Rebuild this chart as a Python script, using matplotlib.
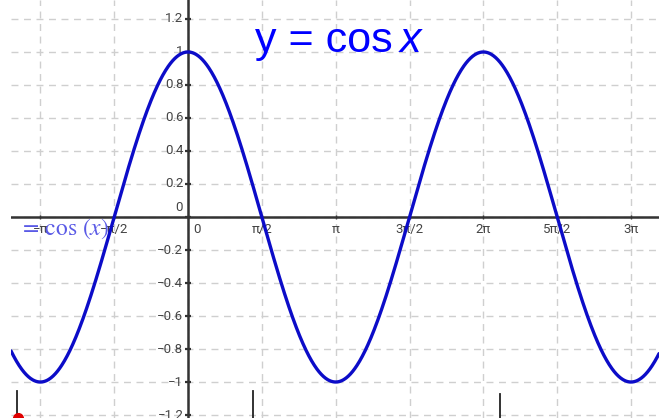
"""
Graph of y = cos x on a pi/2 grid, drawn like a graphing-calculator view.

Writes out.png (659x418).
"""

import matplotlib.pyplot as plt
import numpy as np

# view window (x in radians)
X_MIN, X_MAX = -3.766, 10.02
Y_MIN, Y_MAX = -1.218, 1.315

# x gridlines / labels at multiples of pi/2
x_steps = [-2, -1, 0, 1, 2, 3, 4, 5, 6]
x_labels = ["\u2212\u03c0", "\u2212\u03c0/2", "0", "\u03c0/2", "\u03c0",
            "3\u03c0/2", "2\u03c0", "5\u03c0/2", "3\u03c0"]

# y gridlines / labels
y_ticks = [1.2, 1.0, 0.8, 0.6, 0.4, 0.2, 0.0, -0.2, -0.4, -0.6, -0.8, -1.0, -1.2]
y_labels = ["1.2", "1", "0.8", "0.6", "0.4", "0.2", "0", "\u22120.2",
            "\u22120.4", "\u22120.6", "\u22120.8", "\u22121", "\u22121.2"]

# stray stylus marks along the bottom edge
mark_x = [-3.64, 1.38, 6.64]
mark_top = [-1.055, -1.055, -1.07]
dot_x, dot_y = -3.62, -1.218

CURVE = "#0c0cc8"
AXIS = "#333333"
GRID = "#cfcfcf"
LABEL = "#444444"


def main() -> None:
    plt.rcParams["mathtext.fontset"] = "stix"
    fig = plt.figure(figsize=(6.59, 4.18), dpi=100)
    # leave a narrow white margin on the left
    ax = fig.add_axes([11 / 659, 0, 648 / 659, 1])
    ax.set_xlim(X_MIN, X_MAX)
    ax.set_ylim(Y_MIN, Y_MAX)
    ax.axis("off")

    xs = np.array(x_steps) * np.pi / 2

    # dashed grid
    for gx in xs:
        ax.axvline(gx, color=GRID, lw=1.0, ls=(0, (5, 4)), zorder=1)
    for gy in y_ticks:
        ax.axhline(gy, color=GRID, lw=1.0, ls=(0, (5, 4)), zorder=1)

    # axes through the origin
    ax.axhline(0, color=AXIS, lw=1.8, zorder=3)
    ax.axvline(0, color=AXIS, lw=1.8, zorder=3)
    ax.plot(xs, np.zeros_like(xs), ls="none", marker="|", ms=3, color=AXIS, zorder=3)
    ax.plot(np.zeros(len(y_ticks)), y_ticks, ls="none", marker="_", ms=5,
            mew=1.6, color=AXIS, zorder=3)

    tick_font = dict(family=["Roboto", "DejaVu Sans"], fontsize=9.5, color=LABEL)
    for gx, lab in zip(xs, x_labels):
        if lab == "0":
            ax.text(0.19, -0.073, lab, ha="center", va="center", **tick_font)
        else:
            ax.text(gx, -0.073, lab, ha="center", va="center", **tick_font)
    for gy, lab in zip(y_ticks, y_labels):
        if lab == "0":
            ax.text(-0.2, 0.055, lab, ha="center", va="center", **tick_font)
        else:
            ax.text(-0.1, gy, lab, ha="right", va="center", **tick_font)

    # the function itself
    x = np.linspace(X_MIN, X_MAX, 1200)
    ax.plot(x, np.cos(x), color=CURVE, lw=2.4, zorder=4, solid_capstyle="round")

    # definition label on the axis
    ax.text(-3.6, -0.07, r"$=\,\cos\,(x)$", color="#5a5ae6", fontsize=17,
            ha="left", va="center", zorder=5)

    # heading
    title_font = dict(family=["Liberation Sans", "DejaVu Sans"], fontsize=31,
                      color="#0000ff")
    ax.text(1.42, 1.0, "y = cos", ha="left", va="baseline", **title_font)
    ax.text(4.5, 1.0, "x", ha="left", va="baseline", style="italic", **title_font)

    # pen marks at the bottom
    for mx, mt in zip(mark_x, mark_top):
        ax.plot([mx, mx], [mt, Y_MIN], color="#222222", lw=1.3, zorder=5)
    ax.plot([dot_x], [dot_y], "o", color="#e00000", ms=7, zorder=6, clip_on=False)

    fig.savefig("out.png", dpi=100)


if __name__ == "__main__":
    main()
